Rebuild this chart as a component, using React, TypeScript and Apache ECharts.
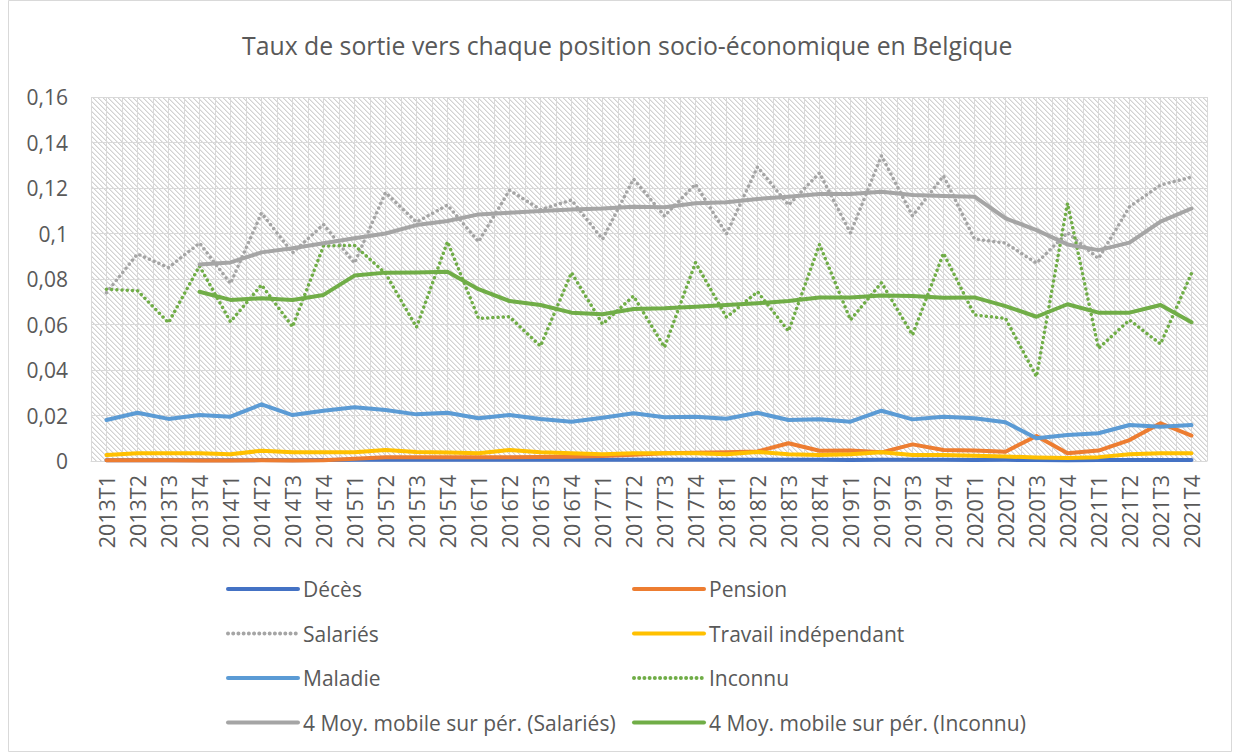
import React, { useEffect, useRef } from "react";
import * as echarts from "echarts";

const quarters = [
  "2013T1", "2013T2", "2013T3", "2013T4", "2014T1", "2014T2", "2014T3", "2014T4",
  "2015T1", "2015T2", "2015T3", "2015T4", "2016T1", "2016T2", "2016T3", "2016T4",
  "2017T1", "2017T2", "2017T3", "2017T4", "2018T1", "2018T2", "2018T3", "2018T4",
  "2019T1", "2019T2", "2019T3", "2019T4", "2020T1", "2020T2", "2020T3", "2020T4",
  "2021T1", "2021T2", "2021T3", "2021T4",
];

const yTicks = [0, 0.02, 0.04, 0.06, 0.08, 0.1, 0.12, 0.14, 0.16];

const deces = [
  0.0003, 0.0003, 0.0003, 0.0003, 0.0003, 0.0004, 0.0003, 0.0004, 0.0006, 0.0006, 0.0006, 0.0006,
  0.0006, 0.0006, 0.0006, 0.0006, 0.0005, 0.0005, 0.0005, 0.0005, 0.0005, 0.0006, 0.0005, 0.0005,
  0.0004, 0.0005, 0.0005, 0.0005, 0.0004, 0.0005, 0.0004, 0.0003, 0.0004, 0.0004, 0.0004, 0.0004,
];
const pension = [
  0.0003, 0.0003, 0.0003, 0.0002, 0.0002, 0.0003, 0.0002, 0.0003, 0.001, 0.0016, 0.0016, 0.0016,
  0.0016, 0.0017, 0.0018, 0.0019, 0.0022, 0.0028, 0.0034, 0.0036, 0.0038, 0.0042, 0.0078, 0.0045,
  0.0046, 0.0038, 0.0073, 0.0048, 0.0046, 0.0041, 0.011, 0.0034, 0.0046, 0.0092, 0.0166, 0.0112,
];
const salaries = [
  0.074, 0.091, 0.085, 0.0958, 0.078, 0.109, 0.0915, 0.104, 0.087, 0.118, 0.105, 0.1125,
  0.0964, 0.119, 0.1105, 0.1147, 0.0975, 0.124, 0.1077, 0.1217, 0.0998, 0.1293, 0.1125, 0.1266,
  0.1002, 0.1342, 0.1077, 0.1253, 0.0976, 0.0958, 0.087, 0.1004, 0.089, 0.1117, 0.1213, 0.1248,
];
const independant = [
  0.0026, 0.0034, 0.0034, 0.0034, 0.003, 0.0045, 0.0038, 0.0038, 0.0038, 0.0048, 0.004, 0.0037,
  0.0034, 0.0048, 0.0038, 0.0034, 0.003, 0.0034, 0.0034, 0.0034, 0.003, 0.004, 0.003, 0.0026,
  0.003, 0.0038, 0.0026, 0.0026, 0.0023, 0.002, 0.0015, 0.0013, 0.0017, 0.003, 0.0034, 0.0034,
];
const maladie = [
  0.018, 0.0212, 0.0185, 0.0202, 0.0195, 0.0249, 0.0202, 0.0221, 0.0236, 0.0224, 0.0205, 0.0212,
  0.0188, 0.0202, 0.0185, 0.0173, 0.019, 0.021, 0.0192, 0.0195, 0.0186, 0.0212, 0.018, 0.0183,
  0.0173, 0.0221, 0.0183, 0.0195, 0.0188, 0.017, 0.01, 0.0114, 0.0122, 0.0158, 0.0151, 0.0158,
];
const inconnu = [
  0.0755, 0.0749, 0.0608, 0.0857, 0.0612, 0.0774, 0.059, 0.0945, 0.0948, 0.0825, 0.0588, 0.0964,
  0.0627, 0.0634, 0.0505, 0.0828, 0.0602, 0.0725, 0.05, 0.0872, 0.0632, 0.0744, 0.0571, 0.0952,
  0.062, 0.0784, 0.0554, 0.0913, 0.0642, 0.0627, 0.0371, 0.1133, 0.0495, 0.062, 0.0514, 0.0825,
];
const moySalaries = [
  null, null, null, 0.0864, 0.0873, 0.0917, 0.0935, 0.0957, 0.0979, 0.1, 0.1037, 0.1055,
  0.1084, 0.1091, 0.1099, 0.1106, 0.111, 0.1118, 0.1115, 0.1133, 0.1137, 0.1152, 0.1162, 0.1174,
  0.1174, 0.1184, 0.1169, 0.1165, 0.1162, 0.1067, 0.1015, 0.0952, 0.0927, 0.096, 0.1052, 0.111,
];
const moyInconnu = [
  null, null, null, 0.0744, 0.0708, 0.0715, 0.0708, 0.073, 0.0815, 0.0828, 0.0829, 0.0832,
  0.0755, 0.0703, 0.0686, 0.0652, 0.0645, 0.0668, 0.0671, 0.0678, 0.0686, 0.0693, 0.0703, 0.0719,
  0.0719, 0.0728, 0.0725, 0.0718, 0.0719, 0.0681, 0.0634, 0.0689, 0.0652, 0.0652, 0.0686, 0.061,
];

const seriesNames = [
  "Décès",
  "Pension",
  "Salariés",
  "Travail indépendant",
  "Maladie",
  "Inconnu",
  "4 Moy. mobile sur pér. (Salariés)",
  "4 Moy. mobile sur pér. (Inconnu)",
];

const FONT = "'Open Sans', sans-serif";
const TEXT = "#595959";
const GRID = "#d9d9d9";

function makeHatch(): HTMLCanvasElement {
  const n = 5;
  const c = document.createElement("canvas");
  c.width = n;
  c.height = n;
  const ctx = c.getContext("2d")!;
  ctx.fillStyle = "#ffffff";
  ctx.fillRect(0, 0, n, n);
  for (let i = 0; i < n; i++) {
    ctx.fillStyle = "#d2d2d2";
    ctx.fillRect(i, i, 1, 1);
    ctx.fillStyle = "#e8e8e8";
    ctx.fillRect((i + 1) % n, i, 1, 1);
  }
  return c;
}

function solid(name: string, data: (number | null)[], color: string, z: number) {
  return {
    name,
    type: "line",
    data,
    symbol: "none",
    z,
    connectNulls: false,
    lineStyle: { color, width: 4, cap: "round", join: "round" },
    itemStyle: { color },
  };
}

function dotted(name: string, data: number[], color: string, z: number) {
  return {
    name,
    type: "line",
    data,
    symbol: "none",
    z,
    lineStyle: { color, width: 3.5, type: [0.01, 5.2], cap: "round", join: "round" },
    itemStyle: { color },
  };
}

export default function App() {
  const ref = useRef<HTMLDivElement>(null);
  useEffect(() => {
    if (!ref.current) return;
    const chart = echarts.init(ref.current, null, { renderer: "svg" });
    const hatch = makeHatch();
    const legendText = { fontFamily: FONT, fontSize: 21, color: TEXT, lineHeight: 24 };
    const legendBase = {
      orient: "vertical",
      top: 577,
      padding: 0,
      itemWidth: 70,
      itemHeight: 14,
      itemGap: 20.5,
      textStyle: legendText,
      itemStyle: { opacity: 0 },
      lineStyle: { width: 4 },
    };
    const option: any = {
      animation: false,
      backgroundColor: "#ffffff",
      textStyle: { fontFamily: FONT },
      title: {
        text: "Taux de sortie vers chaque position socio-économique en Belgique",
        left: 237,
        top: 27,
        textStyle: { fontFamily: FONT, fontSize: 24.8, fontWeight: "normal", color: TEXT },
      },
      graphic: [
        {
          type: "rect",
          shape: { x: 8.5, y: 0.5, width: 1223, height: 751 },
          style: { fill: "none", stroke: GRID, lineWidth: 1 },
          silent: true,
        },
      ],
      grid: {
        left: 91,
        right: 26,
        top: 97,
        bottom: 292,
        show: true,
        borderWidth: 0,
        backgroundColor: { image: hatch, repeat: "repeat" },
      },
      legend: [
        {
          ...legendBase,
          left: 226,
          data: [seriesNames[0], seriesNames[2], seriesNames[4], seriesNames[6]],
        },
        {
          ...legendBase,
          left: 632,
          data: [seriesNames[1], seriesNames[3], seriesNames[5], seriesNames[7]],
        },
      ],
      xAxis: [
        {
          type: "category",
          data: quarters,
          boundaryGap: true,
          axisLine: { show: true, lineStyle: { color: GRID, width: 1 } },
          axisTick: { show: false },
          splitLine: { show: false },
          axisLabel: {
            interval: 0,
            rotate: 90,
            margin: 14,
            fontFamily: FONT,
            fontSize: 21.5,
            color: TEXT,
          },
        },
        {
          type: "value",
          min: 0,
          max: quarters.length * 2,
          interval: 1,
          position: "top",
          axisLine: { show: false },
          axisTick: { show: false },
          axisLabel: { show: false },
          splitLine: { show: true, lineStyle: { color: GRID, width: 1 } },
        },
      ],
      yAxis: {
        type: "value",
        min: yTicks[0],
        max: yTicks[yTicks.length - 1],
        interval: 0.02,
        axisLine: { show: false },
        axisTick: { show: false },
        splitLine: { show: true, lineStyle: { color: GRID, width: 1.2 } },
        axisLabel: {
          margin: 23,
          fontFamily: FONT,
          fontSize: 21,
          color: TEXT,
          formatter: (v: number) => String(Math.round(v * 100) / 100).replace(".", ","),
        },
      },
      series: [
        solid(seriesNames[0], deces, "#4472C4", 2),
        solid(seriesNames[1], pension, "#ED7D31", 3),
        dotted(seriesNames[2], salaries, "#A5A5A5", 4),
        solid(seriesNames[3], independant, "#FFC000", 5),
        solid(seriesNames[4], maladie, "#5B9BD5", 6),
        dotted(seriesNames[5], inconnu, "#70AD47", 7),
        solid(seriesNames[6], moySalaries, "#A5A5A5", 8),
        solid(seriesNames[7], moyInconnu, "#70AD47", 9),
      ],
    };
    chart.setOption(option);
    return () => chart.dispose();
  }, []);
  return (
    <div
      ref={ref}
      style={{ position: "absolute", left: 0, top: 0, width: 1233, height: 753 }}
    />
  );
}
